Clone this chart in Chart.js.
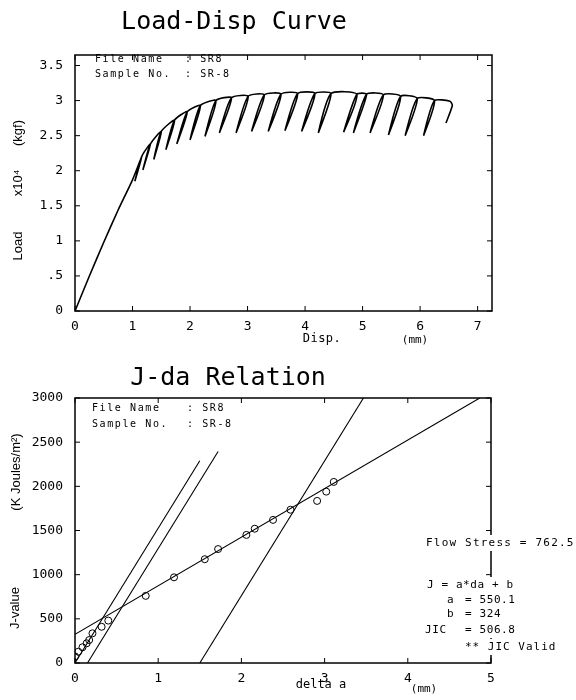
<!DOCTYPE html>
<html>
<head>
<meta charset="utf-8">
<script src="https://cdn.jsdelivr.net/npm/chart.js@4.4.0/dist/chart.umd.min.js"></script>
<style>
body { margin: 0; background: #fff; }
.box { position: absolute; left: 0; width: 576px; }
#top { top: 0; height: 345px; }
#bot { top: 345px; height: 355px; }
</style>
</head>
<body>
<div class="box" id="top"><canvas id="loadChart"></canvas></div>
<div class="box" id="bot"><canvas id="jChart"></canvas></div>
<script>
var mono = "'DejaVu Sans Mono', monospace";
var sans = "'Liberation Sans', 'DejaVu Sans', sans-serif";

// load-displacement record (load in x10^4 kgf), with the unload/reload cycles
var dispMm = [0, 0.25, 0.50, 0.75, 1.00, 1.17, 1.04, 1.17, 1.31, 1.18, 1.31, 1.50, 1.37, 1.50,
  1.73, 1.58, 1.73, 1.95, 1.77, 1.95, 2.18, 2.00, 2.18, 2.45, 2.26, 2.45, 2.72, 2.51, 2.72,
  3.01, 2.80, 3.01, 3.29, 3.07, 3.29, 3.58, 3.36, 3.58, 3.87, 3.65, 3.87, 4.17, 3.94, 4.17,
  4.45, 4.23, 4.45, 4.90, 4.67, 4.90, 5.07, 4.84, 5.07, 5.36, 5.13, 5.36, 5.66, 5.45, 5.66,
  5.95, 5.74, 5.95, 6.25, 6.06, 6.25, 6.52, 6.56, 6.45];
var loadKgf = [0, 0.50, 0.98, 1.44, 1.87, 2.22, 1.85, 2.22, 2.38, 2.01, 2.38, 2.56, 2.16, 2.56,
  2.72, 2.30, 2.72, 2.84, 2.38, 2.84, 2.93, 2.44, 2.93, 3.00, 2.49, 3.00, 3.04, 2.54, 3.04,
  3.06, 2.54, 3.06, 3.08, 2.56, 3.08, 3.09, 2.56, 3.09, 3.10, 2.57, 3.10, 3.10, 2.56, 3.10,
  3.10, 2.54, 3.10, 3.09, 2.55, 3.09, 3.09, 2.54, 3.09, 3.08, 2.54, 3.08, 3.06, 2.51, 3.06,
  3.03, 2.50, 3.03, 3.00, 2.50, 3.00, 2.99, 2.93, 2.68];
var dispTicks = [0, 1, 2, 3, 4, 5, 6, 7];
var loadTicks = [0, 0.5, 1, 1.5, 2, 2.5, 3, 3.5];

// J-da points and the lines of the JIC evaluation
var daMm = [0.0, 0.04, 0.09, 0.14, 0.17, 0.21, 0.32, 0.40, 0.85, 1.19, 1.56, 1.72, 2.06, 2.16, 2.38, 2.59, 2.91, 3.02, 3.11];
var jValue = [75, 128, 178, 223, 260, 336, 410, 480, 760, 970, 1175, 1290, 1450, 1520, 1620, 1735, 1835, 1940, 2050];
var fitDa = [0, 4.865], fitJ = [324, 3000];
var bluntDa = [0, 1.5], bluntJ = [0, 2290];
var excl1Da = [0.15, 1.72], excl1J = [0, 2394];
var excl2Da = [1.5, 3.467], excl2J = [0, 3000];
var daTicks = [0, 1, 2, 3, 4, 5];
var jTicks = [0, 500, 1000, 1500, 2000, 2500, 3000];

function pts(xs, ys) {
  return xs.map(function(x, i) { return {x: x, y: ys[i]}; });
}

function lineSet(xs, ys, w, tension) {
  return { type: 'line', data: pts(xs, ys), borderColor: '#000', borderWidth: w,
    pointRadius: 0, fill: false, tension: tension || 0 };
}

// box round the plot with inward ticks on all four sides
var framePlugin = {
  id: 'frame',
  afterDatasetsDraw: function(chart) {
    var a = chart.chartArea, ctx = chart.ctx;
    var sx = chart.scales.x, sy = chart.scales.y;
    ctx.save();
    ctx.strokeStyle = '#000';
    ctx.lineWidth = 1.5;
    ctx.strokeRect(a.left, a.top, a.right - a.left, a.bottom - a.top);
    ctx.lineWidth = 1;
    ctx.beginPath();
    sx.ticks.forEach(function(t) {
      var px = sx.getPixelForValue(t.value);
      ctx.moveTo(px, a.bottom); ctx.lineTo(px, a.bottom - 5);
      ctx.moveTo(px, a.top); ctx.lineTo(px, a.top + 5);
    });
    sy.ticks.forEach(function(t) {
      var py = sy.getPixelForValue(t.value);
      ctx.moveTo(a.left, py); ctx.lineTo(a.left + 5, py);
      ctx.moveTo(a.right, py); ctx.lineTo(a.right - 5, py);
    });
    ctx.stroke();
    ctx.restore();
  }
};

function notesPlugin(items) {
  return {
    id: 'notes',
    afterDraw: function(chart) {
      var ctx = chart.ctx;
      items.forEach(function(t) {
        ctx.save();
        ctx.font = t.font;
        if ('letterSpacing' in ctx) ctx.letterSpacing = (t.ls || 0) + 'px';
        ctx.textAlign = t.align || 'left';
        ctx.textBaseline = t.base || 'middle';
        ctx.translate(t.x, t.y);
        if (t.rot) ctx.rotate(-Math.PI / 2);
        if (t.bg) {
          ctx.fillStyle = '#fff';
          ctx.fillRect(-5, -8, 576 - t.x + 5, 16);
        }
        ctx.fillStyle = '#000';
        ctx.fillText(t.text, 0, 0);
        ctx.restore();
      });
    }
  };
}

function axes(xmin, xmax, xt, ymin, ymax, yt, xh, ylab) {
  return {
    x: { type: 'linear', min: xmin, max: xmax,
      grid: { display: false, drawTicks: false }, border: { display: false },
      afterBuildTicks: function(s) { s.ticks = xt.map(function(v) { return {value: v}; }); },
      afterFit: function(s) { s.height = xh; },
      ticks: { font: { family: mono, size: 13 }, color: '#000', padding: 8, maxRotation: 0, autoSkip: false } },
    y: { type: 'linear', min: ymin, max: ymax,
      grid: { display: false, drawTicks: false }, border: { display: false },
      afterBuildTicks: function(s) { s.ticks = yt.map(function(v) { return {value: v}; }); },
      afterFit: function(s) { s.width = 75; },
      ticks: { font: { family: mono, size: 13 }, color: '#000', padding: 12, autoSkip: false,
        callback: ylab } }
  };
}

var f10 = '10px ' + mono, f11 = '11px ' + mono, f12 = '12px ' + mono;

var topNotes = [
  { text: 'Load-Disp Curve', x: 234, y: 29, font: '25px ' + mono, align: 'center', base: 'alphabetic' },
  { text: 'File Name', x: 95, y: 59, font: f10, ls: 1.6 },
  { text: ': SR8', x: 185, y: 59, font: f10, ls: 1.6 },
  { text: 'Sample No.', x: 95, y: 74, font: f10, ls: 1.6 },
  { text: ': SR-8', x: 185, y: 74, font: f10, ls: 1.6 },
  { text: 'Disp.', x: 322, y: 339, font: f12, align: 'center', ls: 0.5 },
  { text: '(mm)', x: 415, y: 340, font: f11, align: 'center' },
  { text: 'Load', x: 18, y: 246, font: '13px ' + sans, align: 'center', rot: true },
  { text: 'x10\u2074', x: 18, y: 183, font: '13px ' + sans, align: 'center', rot: true },
  { text: '(kgf)', x: 18, y: 133, font: '13px ' + sans, align: 'center', rot: true }
];

var botNotes = [
  { text: 'J-da Relation', x: 228, y: 40, font: '25px ' + mono, align: 'center', base: 'alphabetic' },
  { text: 'File Name', x: 92, y: 63, font: f10, ls: 1.6 },
  { text: ': SR8', x: 187, y: 63, font: f10, ls: 1.6 },
  { text: 'Sample No.', x: 92, y: 79, font: f10, ls: 1.6 },
  { text: ': SR-8', x: 187, y: 79, font: f10, ls: 1.6 },
  { text: 'delta a', x: 321, y: 340, font: f12, align: 'center' },
  { text: '(mm)', x: 424, y: 344, font: f11, align: 'center' },
  { text: 'J-value', x: 15, y: 263, font: '13px ' + sans, align: 'center', rot: true },
  { text: '(K Joules/m\u00b2)', x: 16, y: 127, font: '13px ' + sans, align: 'center', rot: true },
  { text: 'Flow Stress = 762.5', x: 426, y: 198, font: f11, ls: 1.2, bg: true },
  { text: 'J = a*da + b', x: 427, y: 240, font: f11, ls: 0.6, bg: true },
  { text: 'a', x: 447, y: 255, font: f11, bg: true },
  { text: '= 550.1', x: 465, y: 255, font: f11, ls: 0.6 },
  { text: 'b', x: 447, y: 269, font: f11, bg: true },
  { text: '= 324', x: 465, y: 269, font: f11, ls: 0.6 },
  { text: 'JIC', x: 425, y: 285, font: f11, ls: 0.6, bg: true },
  { text: '= 506.8', x: 465, y: 285, font: f11, ls: 0.6 },
  { text: '** JIC Valid', x: 465, y: 302, font: f11, ls: 1.0, bg: true }
];

new Chart(document.getElementById('loadChart'), {
  type: 'scatter',
  data: { datasets: [ lineSet(dispMm, loadKgf, 1.6, 0.2) ] },
  options: {
    responsive: true, maintainAspectRatio: false, animation: false,
    layout: { padding: { top: 55, right: 84, left: 0, bottom: 0 } },
    plugins: { legend: { display: false }, tooltip: { enabled: false } },
    scales: axes(0, 7.25, dispTicks, 0, 3.65, loadTicks, 34, function(v) {
      return v > 0 && v < 1 ? String(v).replace(/^0/, '') : String(v);
    })
  },
  plugins: [framePlugin, notesPlugin(topNotes)]
});

new Chart(document.getElementById('jChart'), {
  type: 'scatter',
  data: { datasets: [
    { data: pts(daMm, jValue), pointStyle: 'circle', pointRadius: 3.5, borderWidth: 1,
      borderColor: '#000', backgroundColor: 'rgba(0,0,0,0)' },
    lineSet(fitDa, fitJ, 1.1),
    lineSet(bluntDa, bluntJ, 1.1),
    lineSet(excl1Da, excl1J, 1.1),
    lineSet(excl2Da, excl2J, 1.1)
  ] },
  options: {
    responsive: true, maintainAspectRatio: false, animation: false,
    layout: { padding: { top: 53, right: 85, left: 0, bottom: 0 } },
    plugins: { legend: { display: false }, tooltip: { enabled: false } },
    scales: axes(0, 5, daTicks, 0, 3000, jTicks, 37, function(v) { return String(v); })
  },
  plugins: [framePlugin, notesPlugin(botNotes)]
});
</script>
</body>
</html>
